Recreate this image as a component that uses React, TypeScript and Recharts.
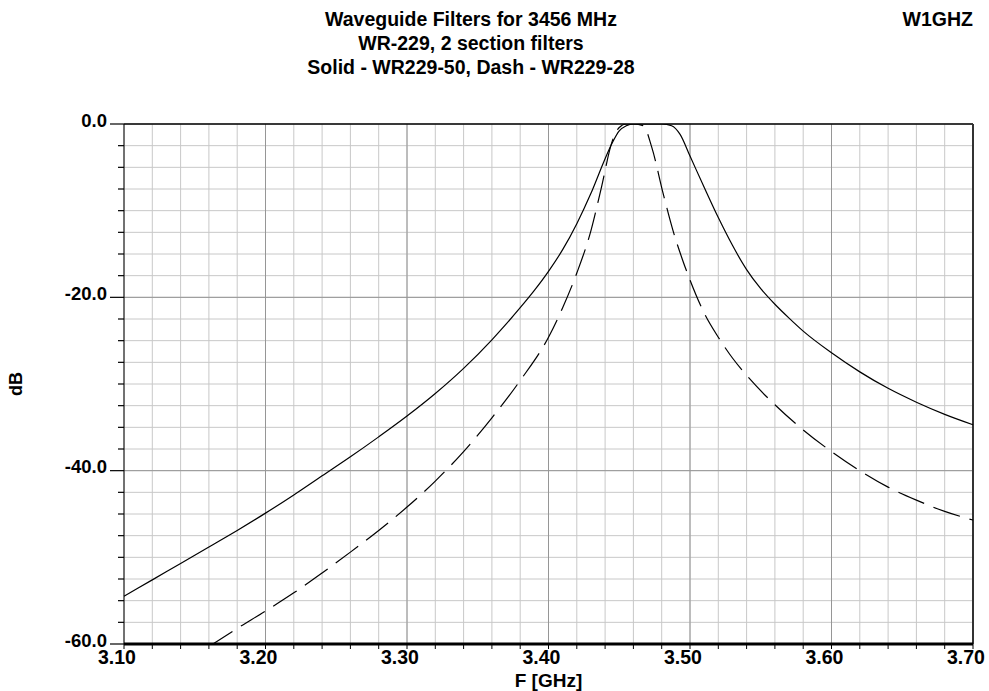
import React from 'react';
import { LineChart, Line, XAxis, YAxis, CartesianGrid, ReferenceLine } from 'recharts';

// Solid - WR229-50
const solidFreq = [3.10, 3.12, 3.14, 3.16, 3.18, 3.20, 3.22, 3.24, 3.26, 3.28, 3.30, 3.32, 3.34, 3.36, 3.37, 3.38, 3.39, 3.40, 3.41, 3.42, 3.43, 3.44, 3.445, 3.45, 3.455, 3.46, 3.47, 3.48, 3.487, 3.493, 3.50, 3.51, 3.52, 3.53, 3.54, 3.55, 3.56, 3.57, 3.58, 3.60, 3.62, 3.64, 3.66, 3.68, 3.70];
const solidDb = [-54.5, -52.6, -50.7, -48.8, -46.9, -44.9, -42.8, -40.6, -38.4, -36.1, -33.7, -31.1, -28.2, -24.9, -23.1, -21.2, -19.2, -17.0, -14.5, -11.5, -8.0, -4.0, -2.2, -0.8, -0.2, 0, 0, 0, -0.2, -1.2, -3.7, -7.3, -10.8, -14.0, -16.8, -19.0, -20.8, -22.4, -23.9, -26.4, -28.6, -30.5, -32.1, -33.5, -34.7];

// Dash - WR229-28
const dashFreq = [3.16, 3.18, 3.20, 3.22, 3.24, 3.26, 3.28, 3.30, 3.32, 3.34, 3.36, 3.38, 3.40, 3.41, 3.42, 3.43, 3.437, 3.445, 3.45, 3.455, 3.46, 3.467, 3.473, 3.481, 3.488, 3.495, 3.50, 3.51, 3.52, 3.53, 3.54, 3.56, 3.58, 3.60, 3.62, 3.64, 3.66, 3.68, 3.70];
const dashDb = [-60.3, -58.2, -56.2, -54.1, -51.8, -49.4, -46.9, -44.2, -41.2, -37.8, -33.9, -29.6, -24.6, -21.2, -17.2, -12.3, -7.6, -2.0, -0.4, 0, 0, -0.2, -2.7, -8.0, -12.3, -15.8, -18.0, -21.8, -24.6, -27.0, -29.0, -32.4, -35.3, -37.8, -40.0, -41.9, -43.4, -44.7, -45.7];

const xTicks = [3.10, 3.12, 3.14, 3.16, 3.18, 3.20, 3.22, 3.24, 3.26, 3.28, 3.30, 3.32, 3.34, 3.36, 3.38, 3.40, 3.42, 3.44, 3.46, 3.48, 3.50, 3.52, 3.54, 3.56, 3.58, 3.60, 3.62, 3.64, 3.66, 3.68, 3.70];
const xMajorTicks = [3.10, 3.20, 3.30, 3.40, 3.50, 3.60, 3.70];
const xMajorLabels = ['3.10', '3.20', '3.30', '3.40', '3.50', '3.60', '3.70'];

const yTicks = [0, -2.5, -5, -7.5, -10, -12.5, -15, -17.5, -20, -22.5, -25, -27.5, -30, -32.5, -35, -37.5, -40, -42.5, -45, -47.5, -50, -52.5, -55, -57.5, -60];
const yMajorTicks = [0, -20, -40, -60];
const yMajorLabels = ['0.0', '-20.0', '-40.0', '-60.0'];

const titleLines = ['Waveguide Filters for 3456 MHz', 'WR-229, 2 section filters', 'Solid - WR229-50, Dash - WR229-28'];
const cornerText = 'W1GHZ';
const xAxisTitle = 'F [GHz]';
const yAxisTitle = 'dB';

const solidData = solidFreq.map((f, i) => ({ f, db: solidDb[i] }));
const dashData = dashFreq.map((f, i) => ({ f, db: dashDb[i] }));

const FONT = "'Liberation Sans', Arial, Helvetica, sans-serif";

const majorIndex = (arr: number[], v: number) => arr.findIndex((m) => Math.abs(m - v) < 1e-6);

const XTick = (props: any) => {
  const { x, y, payload } = props;
  const idx = majorIndex(xMajorTicks, payload.value);
  return (
    <g>
      <line x1={x} x2={x} y1={y} y2={y + 5} stroke="#000" strokeWidth={1} />
      {idx >= 0 && (
        <text x={x - 7} y={y + 20} textAnchor="middle" fontSize={19.5} fontWeight="bold" fontFamily={FONT} fill="#000">
          {xMajorLabels[idx]}
        </text>
      )}
    </g>
  );
};

const YTick = (props: any) => {
  const { x, y, payload } = props;
  const idx = majorIndex(yMajorTicks, payload.value);
  const len = idx >= 0 ? 14 : 6;
  return (
    <g>
      <line x1={x - len} x2={x} y1={y} y2={y} stroke="#000" strokeWidth={1.2} />
      {idx >= 0 && (
        <text x={x - 17} y={y + 2.5} textAnchor="end" fontSize={18.5} fontWeight="bold" fontFamily={FONT} fill="#000">
          {yMajorLabels[idx]}
        </text>
      )}
    </g>
  );
};

export default function App() {
  return (
    <div style={{ position: 'absolute', left: 0, top: 0, width: 989, height: 691, background: '#fff', fontFamily: FONT }}>
      <div style={{ position: 'absolute', left: 0, top: 7, width: 942, textAlign: 'center', fontWeight: 'bold', fontSize: 19.5, lineHeight: '24px', color: '#000' }}>
        {titleLines.map((t) => (
          <div key={t}>{t}</div>
        ))}
      </div>
      <div style={{ position: 'absolute', right: 16, top: 7, fontWeight: 'bold', fontSize: 19.5, lineHeight: '24px', color: '#000' }}>
        {cornerText}
      </div>
      <div style={{ position: 'absolute', left: 0, top: 670, width: 1097, textAlign: 'center', fontWeight: 'bold', fontSize: 19, lineHeight: '22px', color: '#000' }}>
        {xAxisTitle}
      </div>
      <div style={{ position: 'absolute', left: 16, top: 384, fontWeight: 'bold', fontSize: 18, lineHeight: '20px', color: '#000', transform: 'translate(-50%, -50%) rotate(-90deg)' }}>
        {yAxisTitle}
      </div>
      <LineChart width={989} height={691} margin={{ top: 124, right: 16, bottom: 0, left: 0 }}>
        <CartesianGrid stroke="#c8c8c8" strokeWidth={1} />
        <XAxis
          type="number"
          dataKey="f"
          domain={[3.1, 3.7]}
          ticks={xTicks}
          interval={0}
          height={47}
          tickSize={0}
          tickMargin={0}
          tick={<XTick />}
          axisLine={{ stroke: '#000', strokeWidth: 3 }}
          allowDuplicatedCategory={false}
        />
        <YAxis
          type="number"
          domain={[-60, 0]}
          allowDataOverflow
          ticks={yTicks}
          interval={0}
          width={124}
          tickSize={0}
          tickMargin={0}
          tick={<YTick />}
          axisLine={{ stroke: '#000', strokeWidth: 1 }}
        />
        {xMajorTicks.slice(1, -1).map((v) => (
          <ReferenceLine key={'vx' + v} x={v} stroke="#969696" strokeWidth={1} />
        ))}
        {yMajorTicks.slice(1, -1).map((v) => (
          <ReferenceLine key={'hy' + v} y={v} stroke="#969696" strokeWidth={1} />
        ))}
        <ReferenceLine y={0} stroke="#000" strokeWidth={1.5} />
        <ReferenceLine x={3.7} stroke="#333" strokeWidth={2} />
        <Line data={solidData} dataKey="db" type="monotone" stroke="#000" strokeWidth={1.2} dot={false} activeDot={false} isAnimationActive={false} />
        <Line data={dashData} dataKey="db" type="monotone" stroke="#000" strokeWidth={1.2} strokeDasharray="28 10" dot={false} activeDot={false} isAnimationActive={false} />
      </LineChart>
    </div>
  );
}
